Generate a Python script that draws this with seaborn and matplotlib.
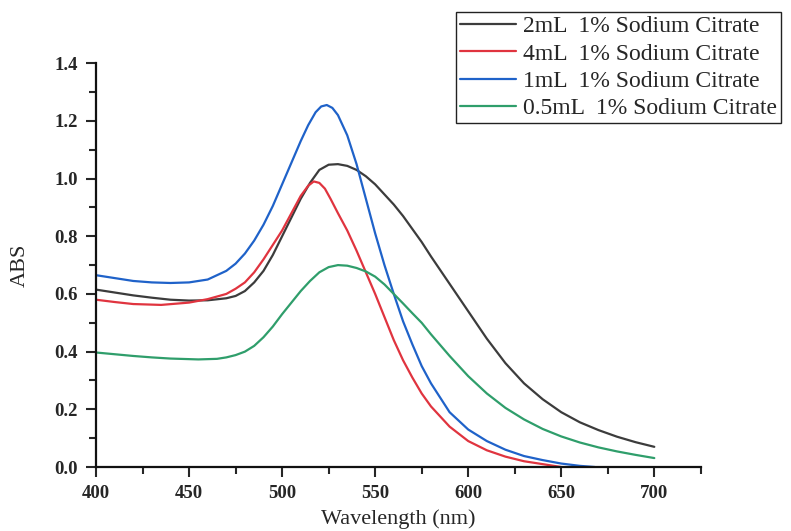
import pandas as pd
import matplotlib
matplotlib.use("Agg")
import matplotlib.pyplot as plt
from matplotlib.ticker import MultipleLocator, FormatStrFormatter
import seaborn as sns

# values
wl_2ml = [400, 410, 420, 430, 440, 450, 460, 470, 475, 480, 485, 490, 495, 500, 505,
          510, 515, 520, 525, 530, 535, 540, 545, 550, 555, 560, 565, 570, 575, 580,
          590, 600, 610, 620, 630, 640, 650, 660, 670, 680, 690, 700]
abs_2ml = [0.615, 0.605, 0.595, 0.587, 0.58, 0.577, 0.578, 0.585, 0.593, 0.61, 0.64,
           0.68, 0.735, 0.80, 0.865, 0.93, 0.985, 1.03, 1.048, 1.05, 1.044, 1.03,
           1.008, 0.98, 0.945, 0.91, 0.87, 0.825, 0.78, 0.73, 0.635, 0.54, 0.445,
           0.36, 0.29, 0.235, 0.19, 0.155, 0.128, 0.105, 0.086, 0.07]

wl_4ml = [400, 410, 420, 435, 450, 460, 470, 475, 480, 485, 490, 495, 500, 505, 510,
          514, 517, 520, 523, 526, 530, 535, 540, 545, 550, 555, 560, 565, 570, 575,
          580, 590, 600, 610, 620, 630, 640, 650]
abs_4ml = [0.58, 0.572, 0.565, 0.562, 0.57, 0.582, 0.60, 0.618, 0.64, 0.675, 0.72,
           0.77, 0.82, 0.88, 0.94, 0.975, 0.99, 0.985, 0.965, 0.93, 0.88, 0.82,
           0.75, 0.675, 0.60, 0.52, 0.44, 0.37, 0.31, 0.255, 0.21, 0.14, 0.09,
           0.058, 0.036, 0.02, 0.01, 0.0]

wl_1ml = [400, 410, 420, 430, 440, 450, 460, 470, 475, 480, 485, 490, 495, 500, 505,
          510, 514, 518, 521, 524, 527, 530, 535, 540, 545, 550, 555, 560, 565, 570,
          575, 580, 590, 600, 610, 620, 630, 640, 650, 660, 668]
abs_1ml = [0.665, 0.655, 0.645, 0.64, 0.638, 0.64, 0.65, 0.68, 0.705, 0.74, 0.785,
           0.84, 0.905, 0.98, 1.055, 1.13, 1.185, 1.23, 1.25, 1.255, 1.245, 1.22,
           1.15, 1.05, 0.93, 0.81, 0.70, 0.60, 0.505, 0.425, 0.35, 0.29, 0.19, 0.13,
           0.09, 0.06, 0.038, 0.024, 0.012, 0.004, 0.0]

wl_05ml = [400, 410, 420, 430, 440, 455, 465, 470, 475, 480, 485, 490, 495, 500, 505,
           510, 515, 520, 525, 530, 535, 540, 545, 550, 555, 560, 565, 570, 575, 580,
           590, 600, 610, 620, 630, 640, 650, 660, 670, 680, 690, 700]
abs_05ml = [0.397, 0.391, 0.385, 0.38, 0.376, 0.373, 0.375, 0.38, 0.388, 0.40, 0.42,
            0.45, 0.487, 0.53, 0.57, 0.61, 0.645, 0.675, 0.693, 0.70, 0.698, 0.69,
            0.678, 0.66, 0.633, 0.60, 0.567, 0.533, 0.50, 0.46, 0.385, 0.315, 0.255,
            0.205, 0.165, 0.132, 0.106, 0.085, 0.068, 0.054, 0.042, 0.031]

labels = ["2mL  1% Sodium Citrate", "4mL  1% Sodium Citrate",
          "1mL  1% Sodium Citrate", "0.5mL  1% Sodium Citrate"]
colors = ["#3c3c3c", "#e0343f", "#1f62c9", "#2f9e6b"]

df = pd.concat([
    pd.DataFrame({"wl": wl_2ml, "abs": abs_2ml, "sample": labels[0]}),
    pd.DataFrame({"wl": wl_4ml, "abs": abs_4ml, "sample": labels[1]}),
    pd.DataFrame({"wl": wl_1ml, "abs": abs_1ml, "sample": labels[2]}),
    pd.DataFrame({"wl": wl_05ml, "abs": abs_05ml, "sample": labels[3]}),
])

sns.set_style("ticks")
plt.rcParams["font.family"] = ["Liberation Serif", "DejaVu Serif"]

fig = plt.figure(figsize=(7.91, 5.31), dpi=100)
ax = fig.add_axes([0.1214, 0.1205, 0.7646, 0.7605])

sns.lineplot(data=df, x="wl", y="abs", hue="sample", hue_order=labels,
             palette=colors, linewidth=1.6, sort=False, estimator=None, ax=ax,
             legend=True)

ax.set_xlim(400, 725)
ax.set_ylim(0, 1.4)
ax.xaxis.set_major_locator(MultipleLocator(50))
ax.xaxis.set_minor_locator(MultipleLocator(25))
ax.yaxis.set_major_locator(MultipleLocator(0.2))
ax.yaxis.set_minor_locator(MultipleLocator(0.1))
ax.yaxis.set_major_formatter(FormatStrFormatter("%.1f"))
ax.tick_params(which="major", direction="out", length=7, width=1.5, labelsize=13.5, pad=6)
ax.tick_params(which="minor", direction="out", length=5, width=1.5)
for lab in ax.get_xticklabels() + ax.get_yticklabels():
    lab.set_fontweight("bold")

for side in ["top", "right"]:
    ax.spines[side].set_visible(False)
for side in ["left", "bottom"]:
    ax.spines[side].set_linewidth(1.6)
    ax.spines[side].set_color("#111111")

ax.set_xlabel("Wavelength (nm)", fontsize=16, labelpad=5)
ax.set_ylabel("ABS", fontsize=16, labelpad=18)

leg = ax.legend(loc="upper left", bbox_to_anchor=(456 / 791, 1 - 12 / 531),
                bbox_transform=fig.transFigure, fontsize=17, frameon=True,
                fancybox=False, edgecolor="#222222", framealpha=1,
                handlelength=2.4, handletextpad=0.3, borderpad=0.15,
                labelspacing=0.25, borderaxespad=0)
leg.get_frame().set_linewidth(1.0)

fig.savefig("out.png", dpi=100)
